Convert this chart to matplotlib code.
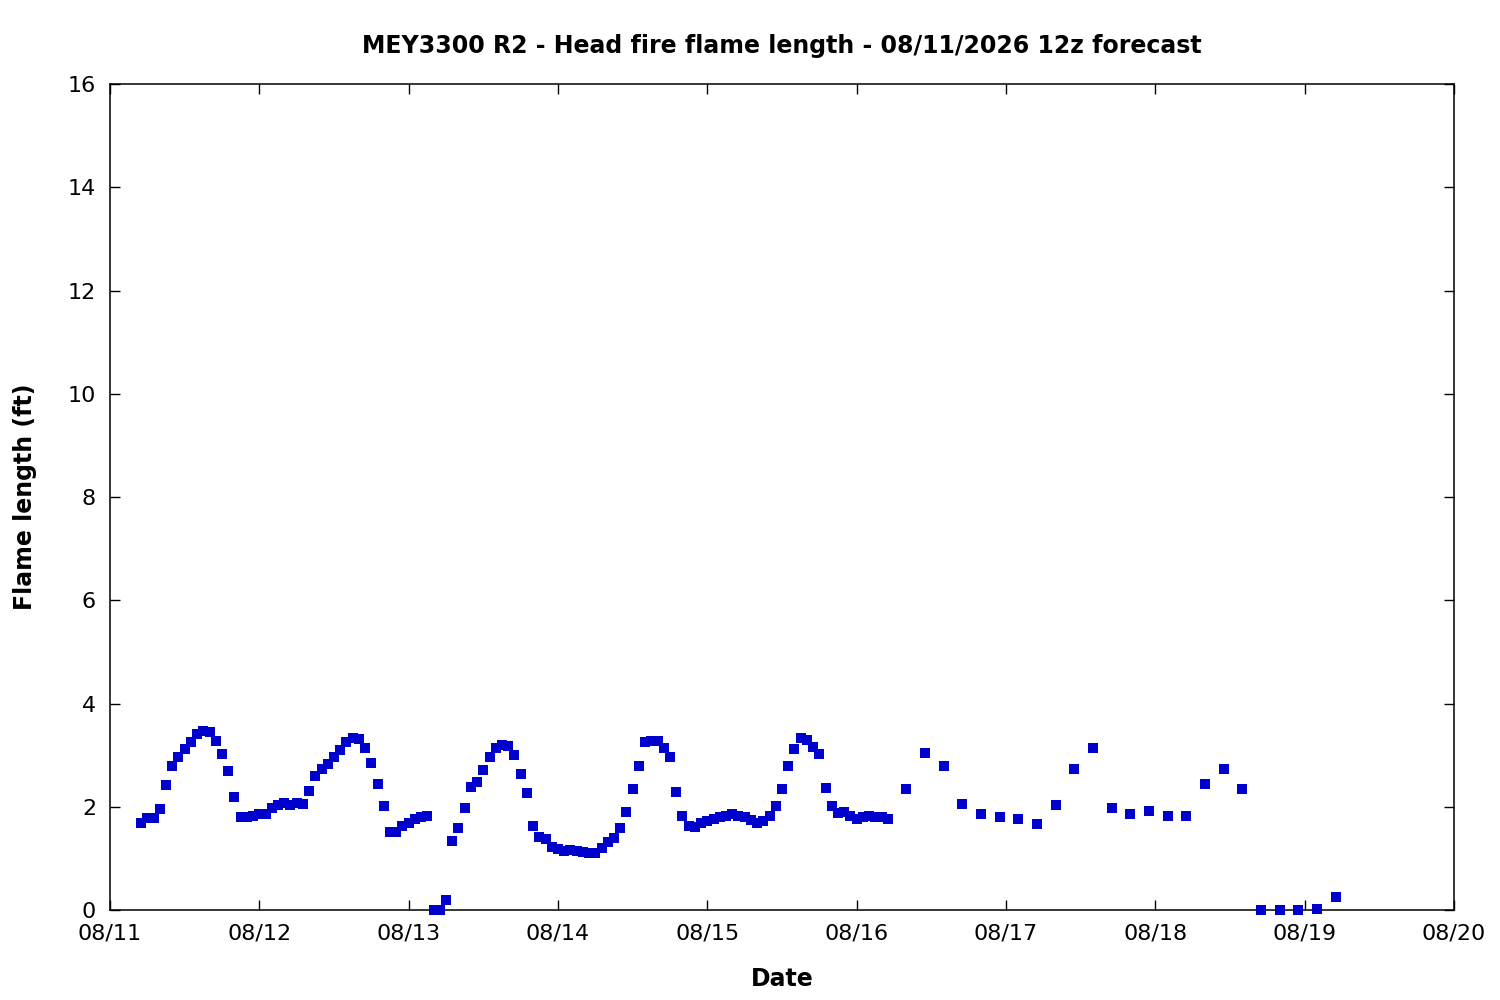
"""Head fire flame length forecast, MEY3300 R2."""

from datetime import datetime, timedelta

import matplotlib
matplotlib.use("Agg")
import matplotlib.pyplot as plt
import matplotlib.dates as mdates


START = datetime(2026, 8, 11)

# hours after 08/11 00:00 -- hourly first, then every 3 h
HOURS = [
    5, 6, 7, 8, 9, 10, 11, 12, 13, 14, 15, 16, 17, 18, 19, 20, 21, 22, 23, 24,
    25, 26, 27, 28, 29, 30, 31, 32, 33, 34, 35, 36, 37, 38, 39, 40, 41, 42, 43, 44,
    45, 46, 47, 48, 49, 50, 51, 52, 53, 54, 55, 56, 57, 58, 59, 60, 61, 62, 63, 64,
    65, 66, 67, 68, 69, 70, 71, 72, 73, 74, 75, 76, 77, 78, 79, 80, 81, 82, 83, 84,
    85, 86, 87, 88, 89, 90, 91, 92, 93, 94, 95, 96, 97, 98, 99, 100, 101, 102, 103, 104,
    105, 106, 107, 108, 109, 110, 111, 112, 113, 114, 115, 116, 117, 118, 119, 120,
    121, 122, 123, 124, 125,
    128, 131, 134, 137, 140, 143, 146, 149, 152, 155, 158, 161, 164, 167, 170, 173,
    176, 179, 182, 185, 188, 191, 194, 197,
]

FLAME_FT = [
    1.68, 1.78, 1.78, 1.95, 2.43, 2.78, 2.97, 3.12, 3.25, 3.40, 3.46, 3.44, 3.27, 3.02, 2.69, 2.19, 1.80, 1.80, 1.82, 1.85,
    1.85, 1.97, 2.03, 2.07, 2.03, 2.07, 2.05, 2.30, 2.59, 2.74, 2.82, 2.96, 3.09, 3.26, 3.33, 3.31, 3.13, 2.84, 2.45, 2.01,
    1.52, 1.52, 1.63, 1.68, 1.76, 1.80, 1.82, 0.00, 0.00, 0.19, 1.33, 1.58, 1.97, 2.38, 2.47, 2.72, 2.97, 3.13, 3.20, 3.17,
    3.00, 2.63, 2.26, 1.62, 1.41, 1.37, 1.23, 1.18, 1.14, 1.16, 1.14, 1.12, 1.10, 1.10, 1.20, 1.31, 1.39, 1.58, 1.89, 2.34,
    2.78, 3.25, 3.27, 3.27, 3.13, 2.96, 2.28, 1.83, 1.62, 1.60, 1.68, 1.72, 1.76, 1.80, 1.83, 1.85, 1.82, 1.80, 1.74, 1.68,
    1.72, 1.83, 2.01, 2.34, 2.78, 3.11, 3.33, 3.29, 3.15, 3.02, 2.36, 2.01, 1.87, 1.89, 1.83, 1.76,
    1.80, 1.82, 1.80, 1.80, 1.76,
    2.34, 3.05, 2.78, 2.05, 1.85, 1.80, 1.76, 1.66, 2.03, 2.74, 3.13, 1.97, 1.85, 1.91, 1.82, 1.83,
    2.45, 2.74, 2.34, 0.00, 0.00, 0.00, 0.01, 0.25,
]

TITLE = "MEY3300 R2 - Head fire flame length - 08/11/2026 12z forecast"
BLUE = "#0000cc"

times = [START + timedelta(hours=h) for h in HOURS]

fig = plt.figure(figsize=(15, 10), dpi=100)
ax = fig.add_axes([0.0733, 0.09, 0.896, 0.826])

ax.plot(times, FLAME_FT, linestyle="none", marker="s", markersize=6.8,
        markeredgewidth=0, color=BLUE, clip_on=False, zorder=3)

ax.set_xlim(START, START + timedelta(days=9))
ax.set_ylim(0, 16)
ax.set_yticks(range(0, 17, 2))
ax.xaxis.set_major_locator(mdates.DayLocator())
ax.xaxis.set_major_formatter(mdates.DateFormatter("%m/%d"))

ax.tick_params(direction="in", length=7, width=1, top=True, right=True,
               labelsize=16, pad=10)
for sp in ax.spines.values():
    sp.set_linewidth(1.1)

ax.set_title(TITLE, fontsize=17, fontweight="bold", pad=22)
ax.set_xlabel("Date", fontsize=17, fontweight="bold", labelpad=17)
ax.set_ylabel("Flame length (ft)", fontsize=17, fontweight="bold", labelpad=22)

fig.savefig("out.png", dpi=100)
